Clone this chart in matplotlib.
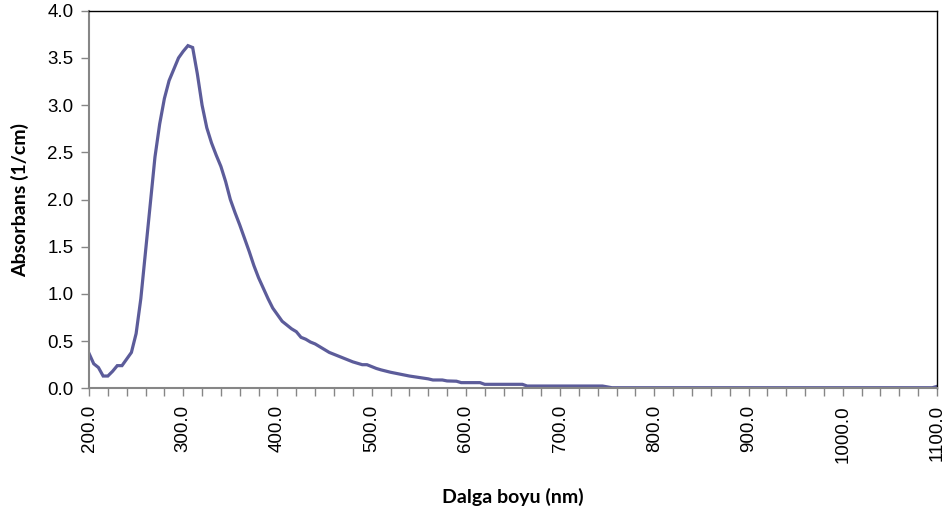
import matplotlib.pyplot as plt
from matplotlib.ticker import MultipleLocator, FormatStrFormatter

# Absorption spectrum, wavelength (nm) vs absorbance (1/cm)
wavelength = [200, 205, 210, 215, 220, 225, 230, 235, 240, 245,
              250, 255, 260, 265, 270, 275, 280, 285, 290, 295,
              300, 305, 310, 315, 320, 325, 330, 335, 340, 345,
              350, 355, 360, 365, 370, 375, 380, 385, 390, 395,
              400, 405, 410, 415, 420, 425, 430, 435, 440, 445,
              450, 455, 460, 470, 480, 490, 495, 500, 505, 510,
              520, 530, 540, 550, 560, 565, 575, 580, 590, 595,
              615, 620, 660, 665, 745, 755, 1095, 1100]
absorbance = [0.37, 0.26, 0.22, 0.13, 0.13, 0.18, 0.24, 0.24, 0.31, 0.38,
              0.58, 0.95, 1.45, 1.95, 2.45, 2.80, 3.07, 3.26, 3.38, 3.50,
              3.57, 3.63, 3.61, 3.33, 3.00, 2.76, 2.60, 2.47, 2.35, 2.19,
              2.00, 1.86, 1.73, 1.59, 1.45, 1.30, 1.17, 1.06, 0.95, 0.85,
              0.78, 0.71, 0.67, 0.63, 0.60, 0.54, 0.52, 0.49, 0.47, 0.44,
              0.41, 0.38, 0.36, 0.32, 0.28, 0.25, 0.25, 0.23, 0.21, 0.195,
              0.17, 0.15, 0.13, 0.115, 0.10, 0.088, 0.088, 0.078, 0.075, 0.06,
              0.06, 0.042, 0.042, 0.024, 0.024, 0.006, 0.006, 0.02]

line_color = "#5c5c9a"
axis_gray = "#868686"

plt.rcParams['font.family'] = ['Liberation Sans', 'DejaVu Sans']

fig = plt.figure(figsize=(9.53, 5.18), dpi=100)
ax = fig.add_axes([0.0934, 0.2504, 0.8898, 0.7289])

ax.plot(wavelength, absorbance, color=line_color, linewidth=2.3, solid_joinstyle='miter')

ax.set_xlim(200, 1100)
ax.set_ylim(0, 4.0)

ax.xaxis.set_major_locator(MultipleLocator(100))
ax.xaxis.set_minor_locator(MultipleLocator(20))
ax.xaxis.set_major_formatter(FormatStrFormatter('%.1f'))
ax.yaxis.set_major_locator(MultipleLocator(0.5))
ax.yaxis.set_major_formatter(FormatStrFormatter('%.1f'))

ax.tick_params(axis='x', which='both', direction='out', length=6, width=1,
               color=axis_gray, labelsize=13.5, labelrotation=90, pad=6)
ax.tick_params(axis='y', which='major', direction='out', length=6, width=1,
               color=axis_gray, labelsize=13.5, pad=5)

ax.spines['left'].set_color(axis_gray)
ax.spines['bottom'].set_color(axis_gray)
ax.spines['left'].set_linewidth(1.5)
ax.spines['bottom'].set_linewidth(1.5)
ax.spines['top'].set_color('black')
ax.spines['right'].set_color('black')
ax.spines['top'].set_linewidth(1.0)
ax.spines['right'].set_linewidth(1.0)

ax.set_xlabel("Dalga boyu (nm)", fontsize=14, fontweight='bold', family='Lato', labelpad=18)
ax.set_ylabel("Absorbans (1/cm)", fontsize=14, fontweight='bold', family='Lato', labelpad=13)

fig.savefig("out.png", dpi=100)
